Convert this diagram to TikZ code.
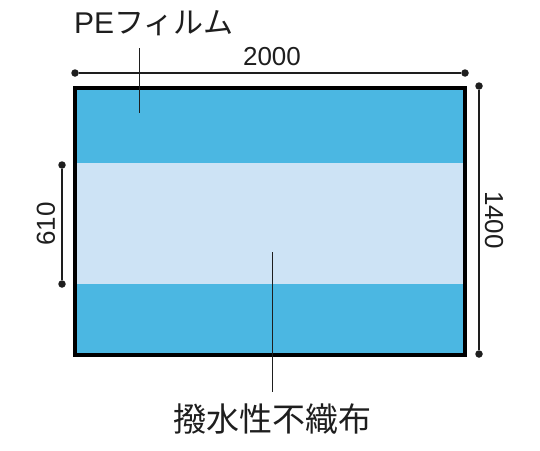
\documentclass[tikz,border=0pt]{standalone}
\usepackage{fontspec}
\setmainfont{Liberation Sans}
\newfontfamily\cjk{Noto Sans CJK JP}
\definecolor{bandblue}{RGB}{75,183,226}
\definecolor{midblue}{RGB}{205,227,245}
\definecolor{ink}{RGB}{30,30,30}
\begin{document}
\begin{tikzpicture}[x=1pt,y=-1pt,
  dot/.style={circle,fill=ink,inner sep=0pt,minimum size=7.5pt},
  dimline/.style={draw=ink,line width=1.2pt},
  leader/.style={draw=ink,line width=1pt},
  lbl/.style={text=ink,inner sep=0pt}]
\useasboundingbox (0,0) rectangle (540,450);
\fill[white] (0,0) rectangle (540,450);
% sheet
\fill[bandblue] (75,88) rectangle (465,355);
\fill[midblue] (75,163) rectangle (465,284);
\draw[line width=4pt,black] (75,88) rectangle (465,355);
% top dimension
\node[dot] (t1) at (75,73) {};
\node[dot] (t2) at (465,73) {};
\draw[dimline] (t1) -- (t2);
\node[lbl,font=\fontsize{26}{26}\selectfont] (w) at (272,57) {2000};
% left dimension
\node[dot] (l1) at (62,165) {};
\node[dot] (l2) at (62,284) {};
\draw[dimline] (l1) -- (l2);
\node[lbl,rotate=90,font=\fontsize{26}{26}\selectfont] (m) at (46,224) {610};
% right dimension
\node[dot] (r1) at (479,86) {};
\node[dot] (r2) at (479,354) {};
\draw[dimline] (r1) -- (r2);
\node[lbl,rotate=-90,font=\fontsize{26}{26}\selectfont] (h) at (494,220) {1400};
% PE label
\node[lbl,anchor=base west,font=\fontsize{30}{30}\selectfont] (pe) at (74,33) {PE{\cjk フィルム}};
\coordinate (pe1) at (139,48);
\coordinate (pe2) at (139,113);
\draw[leader] (pe1) -- (pe2);
% nonwoven label
\node[lbl,anchor=base,font=\cjk\fontsize{33}{33}\selectfont] (nw) at (272,431) {撥水性不織布};
\coordinate (nw1) at (272,252);
\coordinate (nw2) at (272,392);
\draw[leader] (nw1) -- (nw2);
\end{tikzpicture}
\end{document}
